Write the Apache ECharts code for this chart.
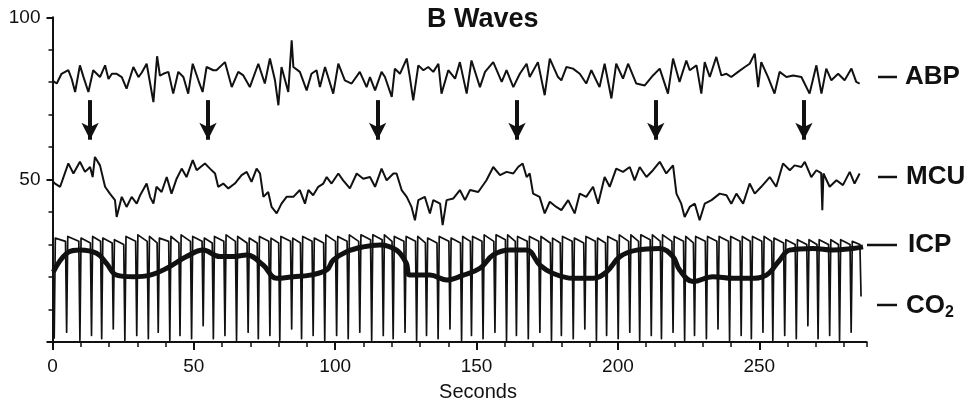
<!DOCTYPE html>
<html>

<head>
  <meta charset="UTF-8">
  <title>B Waves</title>
  <script src="https://cdn.jsdelivr.net/npm/echarts/dist/echarts.min.js"></script>
  <style>
    body {
      margin: 0;
      padding: 0;
      background: #fff;
    }

    #chart {
      width: 977px;
      height: 402px;
    }
  </style>
</head>

<body>
  <div id="chart"></div>

  <script>
    // traces, [seconds, value]
    var abpPoints = [
      [0, 80.5], [1.5, 79.6], [3.2, 82.6], [5.6, 83.7], [6.8, 81], [8, 77], [9.7, 85.2], [11, 81.5], [12.7, 77],
      [14.4, 83.7], [16.8, 81.6], [18.6, 85.2], [19.8, 81], [21, 82.6], [22.7, 82.6], [24.5, 81.6], [26.2, 78],
      [28.6, 84.7], [30.4, 81.6], [31.6, 83], [33.3, 85.7], [35.7, 73.9], [37, 88], [38, 82], [39.2, 82.6],
      [41, 83.2], [42.7, 76.5], [44.5, 83.2], [46.3, 81.6], [48, 76.5], [49.6, 85.7], [51.6, 80.6], [53.1, 77],
      [54.5, 84.7], [56.9, 83.7], [58, 83.7], [61, 86.2], [63.4, 78.5], [65.7, 83.2], [67.5, 82.1], [69.8, 78.5],
      [72.8, 85.7], [75.1, 79.6], [76.9, 87.3], [78.7, 80.6], [79.9, 72.9], [81, 84.7], [83.4, 77], [84.6, 92.9],
      [85.2, 84.7], [87.5, 83.2], [89.9, 77.5], [91.6, 82.6], [93.4, 83.7], [94.6, 78.5], [96.4, 84.7],
      [99.3, 76.5], [101.1, 85.7], [103.4, 80.6], [105.8, 79.6], [108.7, 83.2], [111.1, 78.5], [112.3, 81.6],
      [114.1, 77.5], [116.4, 83.2], [117.6, 81.6], [120, 75.5], [121.1, 84.2], [122.9, 82.6], [125.3, 87.3],
      [126.4, 81.6], [127.6, 74.4], [129.4, 85.2], [131.2, 83.7], [132.9, 84.7], [134.7, 83.2], [136.5, 85.7],
      [137.6, 76.5], [140, 83.7], [142.4, 81.1], [144.1, 86.2], [146.5, 76.5], [148.2, 86.7], [151.2, 78.5],
      [153, 83.2], [155.9, 86.2], [158.9, 80.1], [160.6, 83.7], [163, 78.5], [165.3, 82.6], [167.7, 85.7],
      [168.8, 81.6], [171.7, 86.2], [174.1, 76], [175.9, 87.3], [178.8, 81.6], [180, 80.6], [181.8, 84.7],
      [184.1, 84.2], [186.5, 82.6], [188.8, 79.6], [190.6, 83.7], [193.5, 78.5], [195.3, 85.7], [197.7, 75],
      [199.4, 85.7], [201.8, 81.1], [203.6, 85.7], [206.5, 79.6], [209.5, 79], [212.4, 82.1], [214.8, 84.2],
      [217.7, 76.5], [219.5, 87.3], [221.8, 80.1], [224.2, 86.7], [225.4, 83.7], [227.8, 85.2], [229.5, 76.5],
      [230.7, 86.2], [232.5, 81.6], [234.8, 87.8], [236.6, 82.1], [238.4, 82.6], [240.1, 81.6], [242.5, 83.2],
      [244.9, 84.7], [246.6, 85.7], [248.4, 88.8], [249.6, 78.5], [250.7, 86.2], [253.1, 81.6], [255.4, 76.5],
      [257.2, 83.2], [259.6, 81.6], [262, 82.1], [264.9, 81.6], [267.8, 76.5], [270.2, 85.2], [272, 76.5],
      [273.7, 84.2], [275.5, 80.6], [277.9, 82.6], [280.2, 80.6], [282.6, 84.2], [284.3, 80.1], [285.5, 79.6]
    ];

    var mcuPoints = [
      [0, 49.5], [0.9, 48.8], [2.7, 47.8], [5.6, 55], [7.4, 51.9], [9.7, 55.5], [11.5, 52.4], [13.3, 53.9],
      [14.2, 50.8], [15, 57], [16.8, 54.4], [18.6, 47.8], [20.3, 45.7], [22.1, 43.7], [22.7, 38.5], [24.5, 44.7],
      [26.2, 41.6], [28, 44.7], [29.8, 42.6], [31, 45.2], [33.3, 48.8], [34.5, 44.7], [35.7, 42.6], [36.8, 47.8],
      [38.6, 46.2], [40.4, 50.8], [42.1, 45.7], [43.9, 50.3], [45.7, 53.4], [47.4, 50.8], [49.6, 56], [51, 52.9],
      [53.9, 55], [55.7, 53.4], [57.5, 51.9], [58.6, 47.8], [60.4, 48.8], [62.2, 47.3], [64.5, 48.8], [66.9, 51.4],
      [68.7, 52.4], [70.4, 49.3], [72.2, 53.4], [73.4, 51.9], [74.6, 44.7], [76.3, 46.2], [77.5, 41.6],
      [79.3, 39.6], [81, 42.6], [82.8, 44.7], [85.2, 44.7], [87.5, 46.8], [89.3, 42.6], [90.5, 46.8],
      [92.2, 45.2], [94, 47.8], [95.8, 48.8], [97, 50.8], [98.7, 48.8], [101.1, 51.9], [102.8, 49.8],
      [105.2, 47.3], [107.6, 51.9], [109.9, 50.3], [112.3, 50.8], [114.1, 47.8], [116.4, 53.4], [118.2, 49.8],
      [120.6, 51.9], [121.7, 51.9], [123.5, 46.8], [125.3, 44.7], [127, 41.6], [128.2, 37.5], [129.4, 43.7],
      [131.7, 44.7], [133.5, 39.6], [134.7, 43.7], [137.1, 42.6], [138, 36], [139.4, 43.7], [141.8, 44.2],
      [144.1, 46.8], [145.9, 43.7], [147.7, 46.8], [150.6, 46.2], [153.5, 49.8], [155.9, 53.9], [158.3, 51.4],
      [160.6, 52.4], [163, 51.9], [164.7, 53.9], [166.3, 55], [167.7, 50.8], [168.8, 51.9], [170, 45.7],
      [172.3, 44.7], [174.1, 39.6], [175.9, 43.2], [178.2, 41.6], [180, 40.6], [182.4, 43.7], [184.7, 39.6],
      [186.5, 45.7], [188.8, 44.7], [191.2, 47.8], [193, 42.6], [195.3, 50.8], [197.1, 47.8], [199.4, 53.4],
      [201.8, 52.4], [204.2, 53.9], [205.9, 49.8], [207.7, 53.9], [210.1, 50.8], [212.4, 52.9], [214.8, 55.5],
      [217.1, 51.9], [219.5, 54.4], [220.7, 45.7], [222.4, 42.6], [223.6, 38.5], [225.4, 41.6], [227.2, 42.6],
      [228.9, 37.5], [230.7, 42.6], [233.1, 43.7], [236, 45.7], [238.4, 45.2], [240.1, 42.6], [241.9, 45.7],
      [244.3, 42.6], [246.6, 48.8], [248.4, 45.7], [250.7, 47.8], [253.7, 50.8], [256, 47.8], [258.4, 55],
      [260.8, 52.9], [262.5, 54.4], [264.9, 53.9], [266.1, 55.5], [268.4, 50.8], [270.2, 52.9], [271.9, 52],
      [272.3, 40.6], [272.7, 51.9], [274.9, 47.8], [277.3, 49.8], [279.6, 48.3], [282, 52.4], [283.7, 48.8],
      [285.5, 51.9]
    ];

    var icpPoints = [
      [0.3, 21.6], [5, 27.3], [9.7, 28.3], [15.6, 27.3], [19.1, 24.2], [22.7, 20.6], [28.6, 20.1], [34.5, 20.6],
      [40.4, 22.7], [47.4, 26.3], [53.3, 28.3], [59.2, 26.3], [63.9, 26.3], [68.7, 26.8], [74.5, 23.7],
      [79.3, 19.6], [85.2, 20.1], [91.1, 20.6], [97, 22.2], [99.3, 25.2], [104, 27.8], [109.9, 29.3],
      [115.8, 29.9], [121.7, 28.3], [125.2, 24.2], [126.4, 20.6], [133.5, 20.6], [139.4, 19.1], [145.3, 20.6],
      [151.2, 22.7], [155.9, 26.8], [161.8, 28.3], [167.7, 28.3], [172.4, 23.7], [177.1, 21.1], [184.2, 19.6],
      [191.2, 19.6], [196, 21.6], [200.7, 26.3], [206.6, 28.3], [214.8, 28.8], [219.5, 26.3], [221.8, 22.2],
      [226.6, 18.6], [233.6, 20.1], [240.7, 19.6], [246.6, 19.6], [252.5, 20.6], [257.2, 25.2], [260.7, 28.3],
      [269, 28.8], [276.1, 28.3], [283.1, 28.8], [286.7, 29.3]
    ];

    // capnogram: trough, top of upstroke, end of plateau for each breath
    var co2Points = [
      [0.6, 1], [1.0, 32], [4.6, 31], [5.0, 3], [5.4, 32.5], [9.3, 31], [9.7, 0.5], [10.1, 32], [13.4, 30.5],
      [13.8, 2], [14.2, 32.5], [17.0, 31], [17.4, 1], [17.8, 32], [21.1, 30.5], [21.5, 4], [21.9, 31.5], [25.2, 30],
      [25.6, 0.5], [26.0, 32.5], [29.4, 31], [29.8, 2], [30.2, 33], [33.5, 31], [33.9, 1], [34.3, 32.5], [37.0, 30.5],
      [37.4, 3], [37.8, 32], [41.1, 31], [41.5, 0.5], [41.9, 32.5], [44.7, 30.5], [45.1, 2], [45.5, 33], [48.8, 31],
      [49.2, 1], [49.6, 32.5], [52.9, 31], [53.3, 5], [53.7, 32], [56.5, 30.5], [56.9, 1], [57.3, 32.5], [60.6, 31],
      [61.0, 2], [61.4, 33], [64.7, 31], [65.1, 0.5], [65.5, 32.5], [68.8, 30.5], [69.2, 3], [69.6, 32], [72.4, 30.5],
      [72.8, 1], [73.2, 32.5], [76.5, 31], [76.9, 2], [77.3, 32], [80.0, 30.5], [80.4, 0.5], [80.8, 32.5], [84.2, 31],
      [84.6, 4], [85.0, 32], [87.7, 30.5], [88.1, 1], [88.5, 32.5], [91.8, 31], [92.2, 2], [92.6, 32], [95.9, 30.5],
      [96.3, 0.5], [96.7, 33], [100.1, 31], [100.5, 2], [100.9, 32.5], [104.2, 31], [104.6, 1], [105.0, 33],
      [108.3, 31], [108.7, 3], [109.1, 33], [112.5, 31.5], [112.9, 0.5], [113.3, 33], [116.6, 31.5], [117.0, 2],
      [117.4, 33], [120.1, 31], [120.5, 1], [120.9, 32.5], [124.3, 31], [124.7, 3], [125.1, 32.5], [128.4, 31],
      [128.8, 0.5], [129.2, 32.5], [131.9, 30.5], [132.3, 2], [132.7, 32], [136.0, 30.5], [136.4, 1], [136.8, 32.5],
      [140.2, 31], [140.6, 4], [141.0, 32], [144.3, 30.5], [144.7, 0.5], [145.1, 32.5], [147.8, 31], [148.2, 2],
      [148.6, 32.5], [151.9, 31], [152.3, 1], [152.7, 33], [156.1, 31], [156.5, 3], [156.9, 33], [160.2, 31.5],
      [160.6, 0.5], [161.0, 33], [163.7, 31], [164.1, 2], [164.5, 32.5], [167.9, 31], [168.3, 1], [168.7, 32.5],
      [172.0, 31], [172.4, 3], [172.8, 32.5], [176.1, 30.5], [176.5, 0.5], [176.9, 32], [179.6, 30.5], [180.0, 2],
      [180.4, 32.5], [183.8, 31], [184.2, 1], [184.6, 32], [187.9, 30.5], [188.3, 4], [188.7, 32.5], [192.0, 31],
      [192.4, 0.5], [192.8, 32], [195.6, 30.5], [196.0, 2], [196.4, 32.5], [199.7, 31], [200.1, 1], [200.5, 33],
      [203.8, 31], [204.2, 3], [204.6, 33], [207.3, 31], [207.7, 0.5], [208.1, 33], [211.4, 31.5], [211.8, 2],
      [212.2, 33], [215.0, 31], [215.4, 1], [215.8, 33], [219.1, 31], [219.5, 3], [219.9, 32.5], [223.2, 31],
      [223.6, 0.5], [224.0, 32.5], [226.7, 30.5], [227.1, 2], [227.5, 32.5], [230.9, 31], [231.3, 1], [231.7, 32.5],
      [235.0, 31], [235.4, 4], [235.8, 32.5], [239.1, 31], [239.5, 0.5], [239.9, 32.5], [243.2, 31], [243.6, 2],
      [244.0, 32.5], [246.8, 31], [247.2, 1], [247.6, 32.5], [250.9, 31], [251.3, 3], [251.7, 32.5], [254.4, 31],
      [254.8, 0.5], [255.2, 32], [258.6, 30.5], [259.0, 2], [259.4, 31.5], [262.7, 30], [263.1, 1], [263.5, 31.5],
      [266.8, 30], [267.2, 5], [267.6, 31.5], [270.4, 30], [270.8, 1], [271.2, 31.5], [274.5, 30], [274.9, 2],
      [275.3, 31.5], [278.0, 30], [278.4, 0.5], [278.8, 31.5], [282.1, 30], [282.5, 3], [282.9, 31], [285.6, 30],
      [286.0, 14]
    ];

    // B wave markers (seconds)
    var arrowTimes = [13.3, 55, 115, 164.3, 213.4, 265.8];
    var arrowTop = 74.5;
    var arrowTip = 62.3;

    var xMax = 288;
    var font = '"Liberation Sans", Arial, Helvetica, sans-serif';
    var ink = '#111';

    var chart = echarts.init(document.getElementById('chart'), null, { renderer: 'canvas' });

    var arrowData = arrowTimes.map(function (t) {
      return [{ coord: [t, arrowTop] }, { coord: [t, arrowTip] }];
    });

    function dash(x1, x2, y) {
      return {
        type: 'line',
        shape: { x1: x1, y1: y, x2: x2, y2: y },
        style: { stroke: ink, lineWidth: 2.5 }
      };
    }

    function label(text, x, y) {
      return {
        type: 'text',
        x: x,
        y: y,
        style: {
          text: text,
          font: 'bold 26px ' + font,
          fill: ink,
          align: 'left',
          verticalAlign: 'middle',
          textAlign: 'left',
          textVerticalAlign: 'middle'
        }
      };
    }

    var option = {
      animation: false,
      backgroundColor: '#fff',
      title: {
        text: 'B Waves',
        left: 427,
        top: 6,
        padding: 0,
        textStyle: { fontFamily: font, fontSize: 27, fontWeight: 'bold', color: ink }
      },
      grid: { left: 52.5, right: 110.3, top: 17.3, bottom: 60 },
      xAxis: [
        {
          type: 'value',
          position: 'bottom',
          min: 0,
          max: xMax,
          interval: 50,
          axisLine: { lineStyle: { color: ink, width: 2 } },
          axisTick: { length: 8, lineStyle: { color: ink, width: 2 } },
          axisLabel: { margin: 15, fontSize: 19, fontFamily: font, color: ink, showMaxLabel: false },
          splitLine: { show: false }
        },
        {
          // 10 s minor ticks
          type: 'value',
          position: 'bottom',
          min: 0,
          max: xMax,
          interval: 10,
          axisLine: { show: false },
          axisTick: { length: 5, lineStyle: { color: ink, width: 1.5 } },
          axisLabel: { show: false },
          splitLine: { show: false }
        }
      ],
      yAxis: {
        type: 'value',
        min: 0,
        max: 100,
        interval: 50,
        axisLine: { show: true, lineStyle: { color: ink, width: 2 } },
        axisTick: { show: true, length: 6, lineStyle: { color: ink, width: 2 } },
        minorTick: { show: true, splitNumber: 5, length: 4, lineStyle: { color: ink, width: 1.5 } },
        axisLabel: { margin: 12, fontSize: 19, fontFamily: font, color: ink, showMinLabel: false },
        splitLine: { show: false }
      },
      graphic: [
        {
          type: 'text',
          x: 478,
          y: 392,
          style: {
            text: 'Seconds',
            font: '20px ' + font,
            fill: ink,
            align: 'center',
            verticalAlign: 'middle',
            textAlign: 'center',
            textVerticalAlign: 'middle'
          }
        },
        dash(878, 897, 77), label('ABP', 905, 77),
        dash(878, 897, 177), label('MCU', 906, 177),
        dash(867, 897, 245), label('ICP', 908, 245),
        dash(877, 897, 305), label('CO', 906, 306),
        {
          type: 'text',
          x: 945,
          y: 313,
          style: {
            text: '2',
            font: 'bold 16px ' + font,
            fill: ink,
            align: 'left',
            verticalAlign: 'middle',
            textAlign: 'left',
            textVerticalAlign: 'middle'
          }
        }
      ],
      series: [
        {
          name: 'CO2',
          type: 'line',
          data: co2Points,
          symbol: 'none',
          lineStyle: { color: ink, width: 1.7, join: 'round' },
          z: 2
        },
        {
          name: 'ICP',
          type: 'line',
          data: icpPoints,
          symbol: 'none',
          smooth: 0.4,
          lineStyle: { color: ink, width: 5 },
          z: 3
        },
        {
          name: 'ABP',
          type: 'line',
          data: abpPoints,
          symbol: 'none',
          lineStyle: { color: ink, width: 2 },
          z: 3,
          markLine: {
            silent: true,
            symbol: ['none', 'arrow'],
            symbolSize: [13, 17],
            label: { show: false },
            lineStyle: { color: ink, width: 4, type: 'solid' },
            data: arrowData
          }
        },
        {
          name: 'MCU',
          type: 'line',
          data: mcuPoints,
          symbol: 'none',
          lineStyle: { color: ink, width: 2 },
          z: 3
        }
      ]
    };

    chart.setOption(option);
  </script>
</body>

</html>
